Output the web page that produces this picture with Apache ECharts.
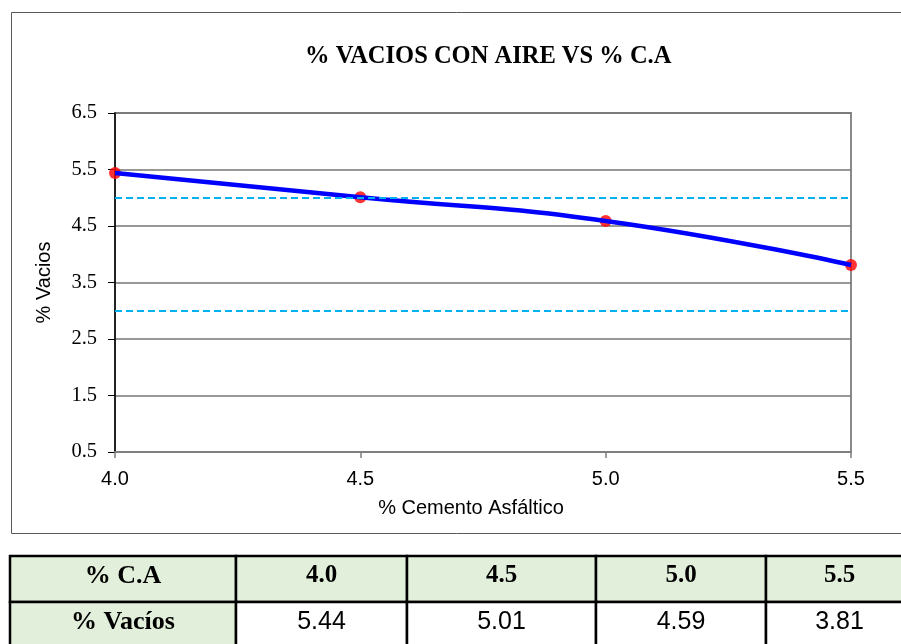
<!DOCTYPE html>
<html>
<head>
<meta charset="utf-8">
<script src="https://cdn.jsdelivr.net/npm/echarts@6/dist/echarts.min.js"></script>
<style>
  html, body { margin: 0; padding: 0; background: #fff; }
  #main { width: 901px; height: 644px; }
</style>
</head>
<body>
<div id="main"></div>
<script>
// datos
const pctCA = [4.0, 4.5, 5.0, 5.5];
const pctVacios = [5.44, 5.01, 4.59, 3.81];
const limites = [5.0, 3.0];   // rango de vacios (lineas punteadas)

const serif = '"Times New Roman", "Liberation Serif", serif';
const sans = 'Arial, "Liberation Sans", sans-serif';

const chart = echarts.init(document.getElementById('main'), null, { renderer: 'canvas' });

// tabla debajo del grafico, hecha con graphic
function buildTable() {
  const cols = [10, 236, 407, 596, 766, 913];
  const rows = [556, 602, 650];
  const green = '#E2EFDA';
  const els = [];
  const rowLabels = ['% C.A', '% Vacíos'];
  for (let r = 0; r < 2; r++) {
    for (let c = 0; c < 5; c++) {
      const fill = (r === 0 || c === 0) ? green : '#ffffff';
      els.push({
        type: 'rect',
        shape: { x: cols[c], y: rows[r], width: cols[c + 1] - cols[c], height: rows[r + 1] - rows[r] },
        style: { fill: fill, stroke: '#000', lineWidth: 2.5 },
        z: 1
      });
      let txt, font;
      if (c === 0) {
        txt = rowLabels[r];
        font = 'bold 26px ' + serif;
      } else if (r === 0) {
        txt = pctCA[c - 1].toFixed(1);
        font = 'bold 25px ' + serif;
      } else {
        txt = pctVacios[c - 1].toFixed(2);
        font = '25px ' + sans;
      }
      els.push({
        type: 'text',
        style: {
          text: txt,
          x: (cols[c] + cols[c + 1]) / 2,
          y: r === 0 ? 576 : 622,
          textAlign: 'center',
          textVerticalAlign: 'middle',
          font: font,
          fill: '#000'
        },
        z: 2
      });
    }
  }
  return els;
}

const option = {
  animation: false,
  backgroundColor: '#fff',
  title: {
    text: '% VACIOS CON AIRE VS % C.A',
    left: 305,
    top: 44,
    padding: 0,
    textStyle: { fontFamily: serif, fontWeight: 'bold', fontSize: 24.5, color: '#000' }
  },
  grid: {
    left: 115, right: 50, top: 113, bottom: 192,
    show: true, borderColor: '#8a8a8a', borderWidth: 2, backgroundColor: 'transparent'
  },
  xAxis: {
    type: 'value',
    min: 4.0, max: 5.5, interval: 0.5,
    name: '% Cemento Asfáltico',
    nameLocation: 'middle',
    nameGap: 46,
    nameTextStyle: { fontFamily: sans, fontSize: 20, color: '#000', padding: [0, 24, 0, 0] },
    axisLine: { show: true, lineStyle: { color: '#7f7f7f', width: 2 } },
    axisTick: { show: true, length: 6, lineStyle: { color: '#7f7f7f', width: 1.5 } },
    axisLabel: {
      margin: 17, fontFamily: sans, fontSize: 20, color: '#000',
      formatter: v => v.toFixed(1)
    },
    splitLine: { show: false }
  },
  yAxis: {
    type: 'value',
    min: 0.5, max: 6.5, interval: 1,
    name: '% Vacios',
    nameLocation: 'middle',
    nameGap: 61,
    nameTextStyle: { fontFamily: sans, fontSize: 20, color: '#000' },
    axisLine: { show: true, lineStyle: { color: '#000', width: 1.5 } },
    axisTick: { show: true, length: 7, lineStyle: { color: '#000', width: 1 } },
    axisLabel: {
      margin: 18, fontFamily: serif, fontSize: 20.5, color: '#000',
      formatter: v => v.toFixed(1)
    },
    splitLine: { show: true, lineStyle: { color: '#767676', width: 1.5 } }
  },
  graphic: [
    {
      type: 'rect',
      shape: { x: 11.5, y: 12.5, width: 950, height: 521 },
      style: { fill: 'none', stroke: '#595959', lineWidth: 1 },
      z: -1
    }
  ].concat(buildTable()),
  series: [
    {
      name: 'puntos',
      type: 'scatter',
      data: pctCA.map((x, i) => [x, pctVacios[i]]),
      symbolSize: 12,
      itemStyle: { color: '#FF0000' },
      clip: false,
      z: 2,
      markLine: {
        silent: true,
        symbol: 'none',
        label: { show: false },
        lineStyle: { color: '#00B0F0', type: [7, 4], width: 2.2 },
        data: limites.map(v => ({ yAxis: v }))
      }
    },
    {
      name: '% Vacios',
      type: 'line',
      data: pctCA.map((x, i) => [x, pctVacios[i]]),
      smooth: 0.5,
      showSymbol: false,
      lineStyle: { color: '#0000FF', width: 4.5 },
      clip: false,
      z: 3
    }
  ]
};

chart.setOption(option);
</script>
</body>
</html>
